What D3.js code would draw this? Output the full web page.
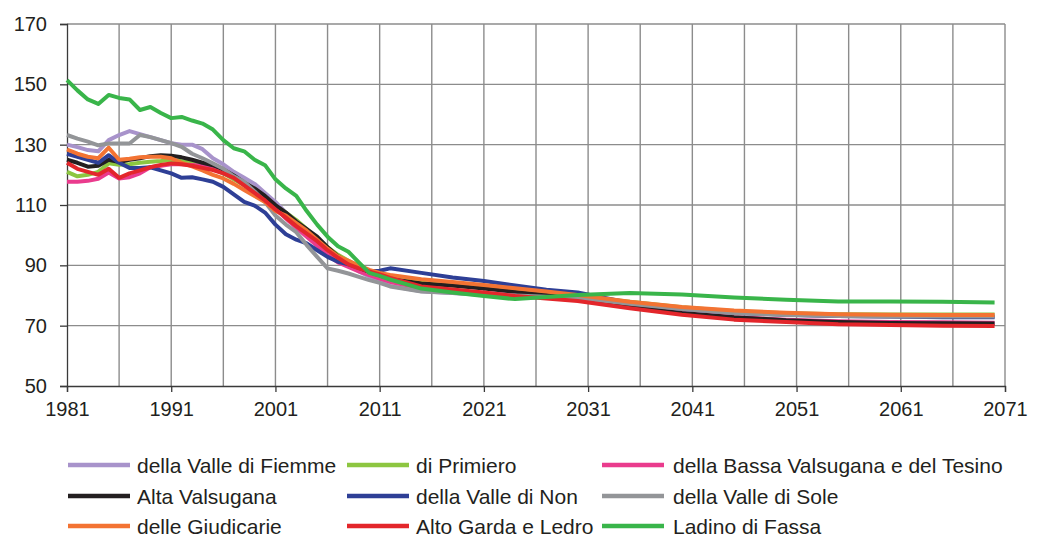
<!DOCTYPE html>
<html><head><meta charset="utf-8">
<script src="https://cdn.jsdelivr.net/npm/d3@7"></script>
<style>
html,body{margin:0;padding:0;background:#fff;}
svg{display:block;font-family:"Liberation Sans",Arial,Helvetica,sans-serif;}
</style></head>
<body><svg id="chart" width="1038" height="540"></svg>
<script>
const years = [1981,1982,1983,1984,1985,1986,1987,1988,1989,1990,1991,1992,1993,1994,1995,1996,1997,1998,1999,2000,2001,2002,2003,2004,2005,2006,2007,2008,2009,2010,2011,2012,2015,2018,2021,2024,2027,2030,2035,2040,2045,2050,2055,2060,2065,2070];

const seriesNames = ["della Valle di Fiemme","di Primiero","della Bassa Valsugana e del Tesino","Alta Valsugana","della Valle di Non","della Valle di Sole","delle Giudicarie","Alto Garda e Ledro","Ladino di Fassa"];
const seriesColors = ["#a893cb","#8dc641","#ea3b8d","#231f20","#2e3f96","#939598","#f37333","#e3262b","#39b54a"];

const fiemme = [130,129.2,128.2,127.8,131.5,133.2,134.5,133.5,132.5,131.5,130.5,130,130,128.5,125.5,123.5,121,119,117,114,111,107.5,104.5,101.5,98.5,95.5,92.5,90,88,86.3,84.5,83.2,81.4,80.8,80.2,79.8,79.4,79,77.2,75.5,74.3,73.6,73.2,73,73,73];
const primiero = [121,119.5,120,121,123.8,123.3,123.5,124,124.3,124.6,125,124.5,124,123,122,120.5,118.5,116.5,114.5,112,109.5,107.5,105,102,99,96,93.5,91.5,89.5,88,86.8,85.8,84.2,83.3,82.5,81.5,80.6,79.8,77.9,76.1,74.8,74.1,73.8,73.7,73.7,73.7];
const bassaValsugana = [117.7,117.7,118,118.7,120.8,118.8,119.2,120.5,122.5,123,123.5,123.5,123.3,123,122.5,121,119,117,115,112.5,109,105.5,102.5,99.5,96.5,93.5,91,89.5,88,86.8,85.6,84.5,82.5,81.5,80.8,80,79.3,78.6,76.3,74.2,72.8,72,71.5,71.2,71.1,71];
const altaValsugana = [125,124,122.7,123,125,124.2,125,125.5,126.2,126.5,126.3,125.8,125,124,123.2,121.8,119.8,117.5,115.5,113,110,107.5,104.5,102,99.5,96,93,91,89.2,87.8,86.7,85.5,84,83.3,82.3,81.2,80.2,78.8,76.3,74.2,72.8,71.8,71.2,70.9,70.8,70.7];
const valleNon = [127,126,125,124,126.5,124,122.3,122.3,122.5,121.5,120.5,119,119.2,118.5,117.7,116,113.5,111,109.8,107.5,103.5,100.3,98.5,97.3,95,92.8,91.2,90.3,89.2,88,88.2,89,87.5,86,84.8,83.3,81.9,81,77.5,75.5,74.3,73.6,73.2,73,72.8,72.8];
const valleSole = [133.2,132,131,129.8,130.4,130.4,130.4,133.2,132.5,131.5,130.5,129.3,127,125.5,123.8,122,119.5,117.7,114.5,111,106.5,103.5,101,96.7,92.8,89,88.2,87.3,86.2,85.1,84.2,83,81.3,80.8,80.3,80,79.6,79.2,77.3,75.5,74.2,73.5,73.2,73,73,73];
const giudicarie = [128.4,127,126,125.5,129,125,125.3,125.8,126,126,125.5,124,122.8,121.5,120,118.8,117,115,113,111,108,106.5,104,101.5,98.5,95.5,93,91.5,90,88.5,87.5,86.8,85.4,84.5,83.5,82.4,81.3,80.2,77.9,76.2,75,74.3,73.8,73.6,73.5,73.5];
const altoGarda = [124,122,121,120,122,119,120.5,121.5,122.5,123.3,123.8,123.5,123,122.3,121.6,120.5,119,116.5,114,111.5,108.5,105.8,103,100.5,98,95,92.5,90.3,89,88,87,85.8,83,82,81,79.8,79,78.2,75.8,73.6,72,71.2,70.5,70.2,70,69.9];
const ladinoFassa = [151.4,148,145,143.5,146.5,145.5,145,141.5,142.5,140.5,138.8,139.2,138,137,135,131.5,128.8,127.8,125,123.2,118.5,115.5,113,108,103.5,99.5,96.3,94.5,91,87.5,86.5,85.3,82.3,81,79.8,78.8,79.5,80.2,80.8,80.3,79.3,78.6,78,78,77.9,77.7];

const seriesValues = [fiemme,primiero,bassaValsugana,altaValsugana,valleNon,valleSole,giudicarie,altoGarda,ladinoFassa];

const yTicks = [50,70,90,110,130,150,170];
const xTickLabels = [1981,1991,2001,2011,2021,2031,2041,2051,2061,2071];
const xGridYears = [1981,1986,1991,1996,2001,2006,2011,2016,2021,2026,2031,2036,2041,2046,2051,2056,2061,2066,2071];

const svg = d3.select("#chart");
const m = {left:67, right:1038-1005, top:24, bottom:540-386};
const W = 1038, H = 540;
const x = d3.scaleLinear().domain([1981,2071]).range([m.left, W-m.right]);
const y = d3.scaleLinear().domain([50,170]).range([H-m.bottom, m.top]);

const grid = svg.append("g");
grid.selectAll("line.v").data(xGridYears.slice(1)).join("line")
  .attr("x1",d=>x(d)).attr("x2",d=>x(d)).attr("y1",y(50)).attr("y2",y(170))
  .attr("stroke","#8c8c8c").attr("stroke-width",1.4);
grid.selectAll("line.h").data(yTicks.slice(1)).join("line")
  .attr("x1",x(1981)).attr("x2",x(2071)).attr("y1",d=>y(d)).attr("y2",d=>y(d))
  .attr("stroke","#8c8c8c").attr("stroke-width",1.4);

const yAxis = svg.append("g").attr("transform",`translate(${m.left},0)`)
  .call(d3.axisLeft(y).tickValues(yTicks).tickSize(7).tickPadding(13));
const xAxis = svg.append("g").attr("transform",`translate(0,${H-m.bottom})`)
  .call(d3.axisBottom(x).tickValues(xTickLabels).tickFormat(d3.format("d")).tickSize(6).tickPadding(10));
[yAxis,xAxis].forEach(g=>{
  g.select(".domain").attr("stroke","#3a3a3a").attr("stroke-width",1.3);
  g.selectAll(".tick line").attr("stroke","#3a3a3a").attr("stroke-width",1.3);
  g.selectAll(".tick text").attr("fill","#231f20").style("font-size","20px").style("font-family","'Liberation Sans',Arial,sans-serif");
});

const line = d3.line().x((d,i)=>x(years[i])).y(d=>y(d));
svg.append("g").selectAll("path").data(seriesValues).join("path")
  .attr("d",d=>line(d)).attr("fill","none")
  .attr("stroke",(d,i)=>seriesColors[i]).attr("stroke-width",4)
  .attr("stroke-linejoin","round").attr("stroke-linecap","butt");

const legCols = [{lx:68, tx:137},{lx:347, tx:416},{lx:602, tx:673}];
const legRows = [465,496,526];
const leg = svg.append("g");
seriesNames.forEach((name,i)=>{
  const c = legCols[i%3], r = legRows[Math.floor(i/3)];
  leg.append("line").attr("x1",c.lx).attr("x2",c.lx+62).attr("y1",r).attr("y2",r)
    .attr("stroke",seriesColors[i]).attr("stroke-width",4.5);
  leg.append("text").attr("x",c.tx).attr("y",r).attr("dy","0.36em")
    .attr("fill","#231f20").style("font-size","21px").text(name);
});
</script></body></html>
